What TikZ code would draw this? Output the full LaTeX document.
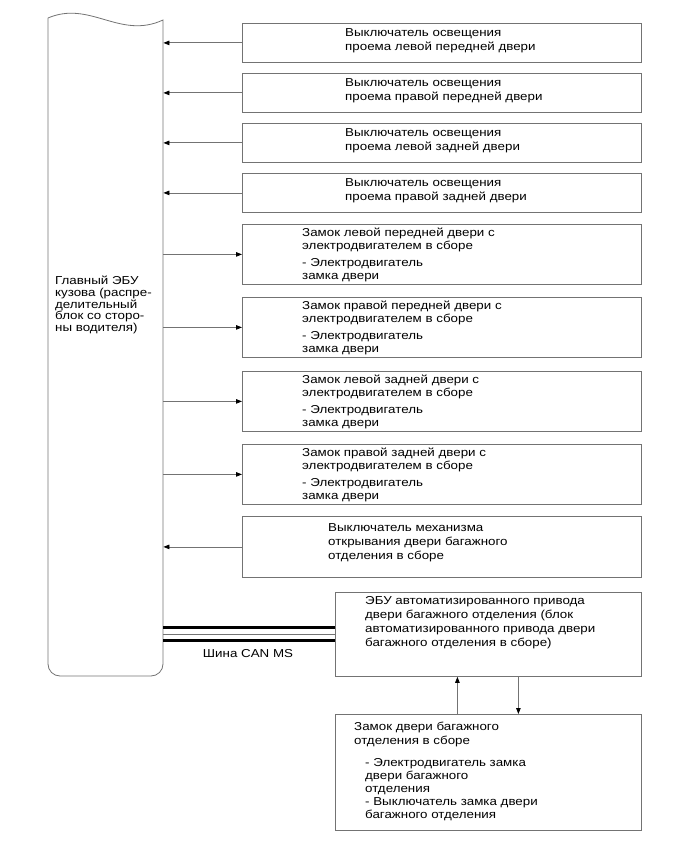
\documentclass[tikz,border=0pt]{standalone}
\usepackage{fontspec}
\setmainfont{Liberation Sans}[FakeStretch=1.16]
\usetikzlibrary{arrows.meta}

\begin{document}
\begin{tikzpicture}[
    x=1pt, y=-1pt,
    grayline/.style={draw=black!55, line width=0.8pt},
    box/.style={grayline, anchor=north west, inner sep=0pt, minimum width=399pt},
    swbox/.style={box, minimum height=39pt},
    lkbox/.style={box, minimum height=60pt},
    txt/.style={anchor=north west, inner sep=0pt, align=left, font=\fontsize{11.5}{14}\selectfont},
    arr/.style={grayline, -{Triangle[length=6pt, width=4.5pt, color=black]}},
    bus/.style={draw=black, line width=3pt}
  ]
  \useasboundingbox (0,0) rectangle (690,853);

  % body ECU (left block)
  \node[anchor=north west, inner sep=0pt, minimum width=115pt, minimum height=664pt] (ecu) at (48,12) {};
  \draw[grayline] (48,18) .. controls (90,0) and (120,40) .. (163,20)
    [rounded corners=12pt] -- (163,676) -- (48,676) -- (48,18);
  \node[txt, font=\fontsize{11.5}{11.7}\selectfont] (ecut) at (55,276) {Главный ЭБУ\\кузова (распре-\\делительный\\блок со сторо-\\ны водителя)};

  % courtesy light switches
  \node[swbox] (sw1) at (242,23) {};
  \node[swbox] (sw2) at (242,73) {};
  \node[swbox] (sw3) at (242,123) {};
  \node[swbox] (sw4) at (242,173) {};
  \node[txt] (sw1t) at (345,28.5) {Выключатель освещения\\проема левой передней двери};
  \node[txt] (sw2t) at (345,78.5) {Выключатель освещения\\проема правой передней двери};
  \node[txt] (sw3t) at (345,128.5) {Выключатель освещения\\проема левой задней двери};
  \node[txt] (sw4t) at (345,178.5) {Выключатель освещения\\проема правой задней двери};

  % door locks
  \node[lkbox] (lk1) at (242,224) {};
  \node[lkbox] (lk2) at (242,297) {};
  \node[lkbox] (lk3) at (242,371) {};
  \node[lkbox] (lk4) at (242,444) {};
  \node[txt, font=\fontsize{11.5}{13}\selectfont] (lk1t) at (302,228) {Замок левой передней двери с\\электродвигателем в сборе\\[4pt]- Электродвигатель\\замка двери};
  \node[txt, font=\fontsize{11.5}{13}\selectfont] (lk2t) at (302,301) {Замок правой передней двери с\\электродвигателем в сборе\\[4pt]- Электродвигатель\\замка двери};
  \node[txt, font=\fontsize{11.5}{13}\selectfont] (lk3t) at (302,375) {Замок левой задней двери с\\электродвигателем в сборе\\[4pt]- Электродвигатель\\замка двери};
  \node[txt, font=\fontsize{11.5}{13}\selectfont] (lk4t) at (302,448) {Замок правой задней двери с\\электродвигателем в сборе\\[4pt]- Электродвигатель\\замка двери};

  % back door opener switch
  \node[lkbox, minimum height=61pt] (opn) at (242,516) {};
  \node[txt] (opnt) at (328,523.5) {Выключатель механизма\\открывания двери багажного\\отделения в сборе};

  % power back door ECU and lock
  \node[box, minimum width=306pt, minimum height=84pt] (pwr) at (335,592) {};
  \node[txt] (pwrt) at (365,596.5) {ЭБУ автоматизированного привода\\двери багажного отделения (блок\\автоматизированного привода двери\\багажного отделения в сборе)};
  \node[box, minimum width=306pt, minimum height=116pt] (dl) at (335,714) {};
  \node[txt, font=\fontsize{11.5}{13.5}\selectfont] (dlt1) at (354,722) {Замок двери багажного\\отделения в сборе};
  \node[txt, font=\fontsize{11.5}{13}\selectfont] (dlt2) at (365,758.5) {- Электродвигатель замка\\двери багажного\\отделения\\- Выключатель замка двери\\багажного отделения};

  \draw[arr] (sw1.west) -- (sw1.west -| ecu.east);
  \draw[arr] (sw2.west) -- (sw2.west -| ecu.east);
  \draw[arr] (sw3.west) -- (sw3.west -| ecu.east);
  \draw[arr] (sw4.west) -- (sw4.west -| ecu.east);
  \draw[arr] (lk1.west -| ecu.east) -- (lk1.west);
  \draw[arr] (lk2.west -| ecu.east) -- (lk2.west);
  \draw[arr] (lk3.west -| ecu.east) -- (lk3.west);
  \draw[arr] (lk4.west -| ecu.east) -- (lk4.west);
  \draw[arr] (opn.west) -- (opn.west -| ecu.east);

  % CAN bus
  \coordinate (busa) at ([yshift=6.5pt]pwr.west);
  \coordinate (busb) at ([yshift=-6.5pt]pwr.west);
  \draw[bus] (busa) -- (busa -| ecu.east);
  \draw[bus] (busb) -- (busb -| ecu.east);
  \draw[grayline] (pwr.west) -- (pwr.west -| ecu.east);
  \node[font=\fontsize{11.5}{14}\selectfont] (can) at (248,654) {Шина CAN MS};

  \coordinate (up) at ([xshift=-31pt]dl.north);
  \coordinate (dn) at ([xshift=30pt]pwr.south);
  \draw[arr] (up) -- (up |- pwr.south);
  \draw[arr] (dn) -- (dn |- dl.north);
\end{tikzpicture}
\end{document}
